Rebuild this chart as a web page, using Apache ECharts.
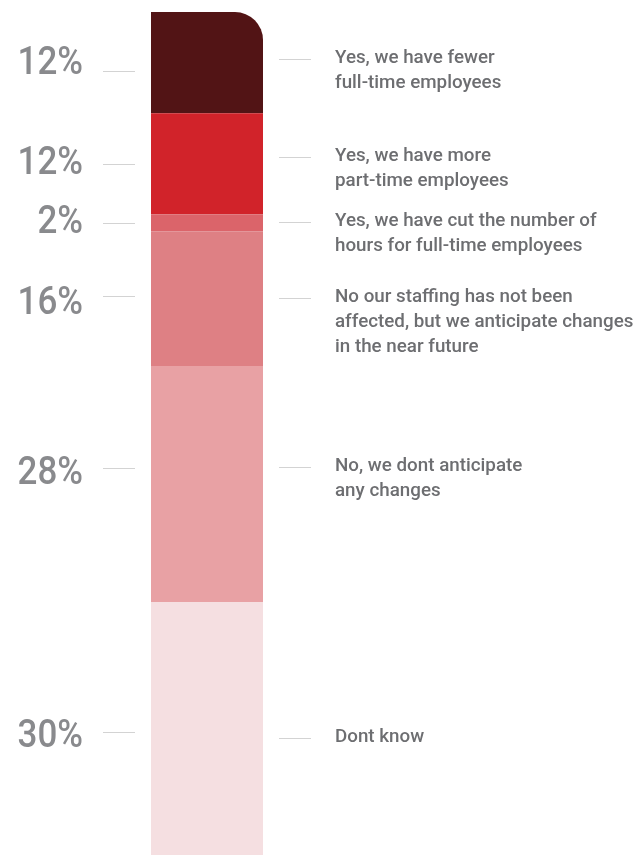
<!DOCTYPE html>
<html>
<head>
<meta charset="utf-8">
<style>
  html, body { margin: 0; padding: 0; background: #ffffff; }
  #chart { width: 639px; height: 855px; }
</style>
<script src="https://cdn.jsdelivr.net/npm/echarts@6/dist/echarts.min.js"></script>
</head>
<body>
<div id="chart"></div>
<script>
// Survey answers, top to bottom of the stacked column
const categories = [
  'Yes, we have fewer\nfull-time employees',
  'Yes, we have more\npart-time employees',
  'Yes, we have cut the number of\nhours for full-time employees',
  'No our staffing has not been\naffected, but we anticipate changes\nin the near future',
  'No, we dont anticipate\nany changes',
  'Dont know'
];
const shares = [12, 12, 2, 16, 28, 30];
const percentLabels = ['12%', '12%', '2%', '16%', '28%', '30%'];

const segmentColors = ['#521415', '#d1232a', '#db646a', '#de8084', '#e8a1a4', '#f5dfe1'];
// small vertical nudges so the callouts on each side sit clear of one another
const percentNudge = [1, 0, 0, 5, -11, 8];
const leftNudge = [8, 0, 0, -3, -16, 3];
const rightNudge = [-4, -7, -1, -1, -17, 9];

// cumulative start / end of each segment
const spans = [];
let acc = 0;
shares.forEach(function (v, i) {
  spans.push([0, acc, acc + v, i]);
  acc += v;
});

const barSeries = shares.map(function (v, i) {
  return {
    type: 'bar',
    name: categories[i],
    stack: 'total',
    barWidth: '100%',
    silent: true,
    itemStyle: {
      color: segmentColors[i],
      borderRadius: i === 0 ? [0, 28, 0, 0] : 0
    },
    data: [v]
  };
});

const calloutSeries = {
  type: 'custom',
  silent: true,
  z: 5,
  data: spans,
  renderItem: function (params, api) {
    const idx = api.value(3);
    const mid = (api.value(1) + api.value(2)) / 2;
    const c = api.coord([0, mid]);
    const band = api.size([1, 0])[0];
    const left = c[0] - band / 2;
    const right = c[0] + band / 2;
    const yp = c[1] + percentNudge[idx];
    const yl = Math.round(c[1] + leftNudge[idx]) + 0.5;
    const yr = Math.round(c[1] + rightNudge[idx]) + 0.5;
    const lineStyle = { stroke: '#d3d3d3', lineWidth: 1 };
    return {
      type: 'group',
      children: [
        {
          type: 'text',
          x: left - 68,
          y: yp + 1,
          scaleX: 0.92,
          originX: 0,
          style: {
            text: percentLabels[idx],
            fill: '#898a8d',
            fontSize: 38,
            fontWeight: 500,
            fontFamily: 'Roboto',
            align: 'right',
            verticalAlign: 'middle'
          }
        },
        { type: 'line', shape: { x1: left - 48, y1: yl, x2: left - 16, y2: yl }, style: lineStyle },
        { type: 'line', shape: { x1: right + 16, y1: yr, x2: right + 48, y2: yr }, style: lineStyle },
        {
          type: 'text',
          x: right + 72,
          y: yr - 14,
          style: {
            text: categories[idx],
            fill: '#6d6e71',
            fontSize: 18.8,
            fontWeight: 500,
            lineHeight: 25,
            fontFamily: 'Roboto',
            align: 'left',
            verticalAlign: 'top'
          }
        }
      ]
    };
  }
};

const chart = echarts.init(document.getElementById('chart'), null, { renderer: 'canvas' });
chart.setOption({
  animation: false,
  backgroundColor: '#ffffff',
  grid: { left: 151, width: 112, top: 12, bottom: 0 },
  xAxis: { type: 'category', data: ['share'], show: false },
  yAxis: { type: 'value', min: 0, max: 100, inverse: true, show: false },
  series: barSeries.concat([calloutSeries])
});
</script>
</body>
</html>
